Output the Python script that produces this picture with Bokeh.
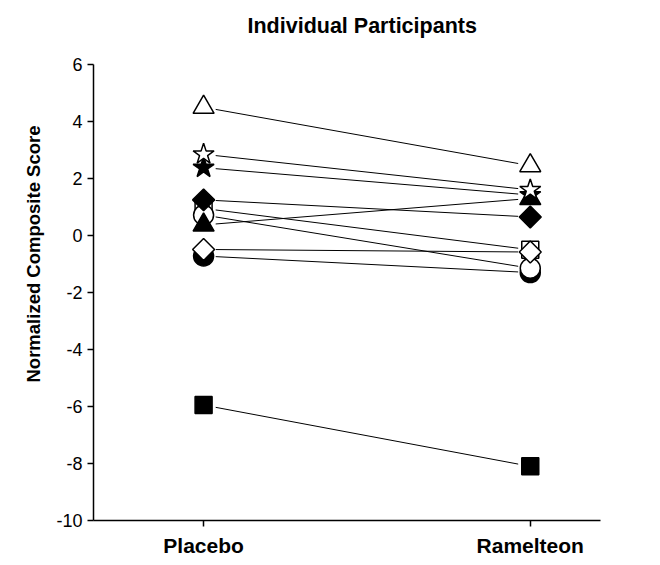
from bokeh.plotting import figure
from bokeh.models import FixedTicker, Range1d, Title
from bokeh.embed import file_html
from bokeh.resources import INLINE

# Participants (draw order bottom -> top)
markers = ["square", "star", "circle", "circle", "triangle", "diamond", "diamond", "star", "triangle", "square"]
filled = [False, True, True, False, True, False, True, False, False, True]
placebo = [0.95, 2.38, -0.72, 0.72, 0.37, -0.49, 1.25, 2.85, 4.5, -5.95]
ramelteon = [-0.5, 1.42, -1.3, -1.15, 1.3, -0.58, 0.65, 1.6, 2.45, -8.1]

conditions = ["Placebo", "Ramelteon"]
yticks = [6, 4, 2, 0, -2, -4, -6, -8, -10]
title_text = "Individual Participants"

FONT = "Liberation Sans"

p = figure(width=620, height=560, output_backend="svg", toolbar_location=None,
           x_range=Range1d(-0.337, 1.215), y_range=Range1d(-10, 6),
           min_border_left=93, min_border_right=20, min_border_top=64, min_border_bottom=40)
p.outline_line_color = None
p.xgrid.visible = False
p.ygrid.visible = False

# spacer panel next to the frame, then the real title above it
spacer = Title(text=" ", text_font_size="1px", standoff=13, text_color="white")
p.add_layout(spacer, "above")
t = Title(text=title_text, align="left", offset=154, standoff=22,
          text_font=FONT, text_font_size="21.5px", text_font_style="bold", text_color="black")
p.add_layout(t, "above")

yl = Title(text="Normalized Composite Score", align="left", offset=138, standoff=20,
           text_font=FONT, text_font_size="18.5px", text_font_style="bold", text_color="black")
p.add_layout(yl, "left")

# connecting lines, shortened to leave a small gap at each marker
g = 0.037
x0 = [g] * len(placebo)
x1 = [1 - g] * len(placebo)
y0 = [a + (b - a) * g for a, b in zip(placebo, ramelteon)]
y1 = [a + (b - a) * (1 - g) for a, b in zip(placebo, ramelteon)]
p.segment(x0=x0, y0=y0, x1=x1, y1=y1, line_color="black", line_width=1)

sizes = {"square": 17, "circle": 20, "triangle": 21, "star": 22, "diamond": 15.5}
for m, f, a, b in zip(markers, filled, placebo, ramelteon):
    kind = "square" if m == "diamond" else m
    ang = 0.785398 if m == "diamond" else 0
    p.scatter(x=[0, 1], y=[a, b], marker=kind, size=sizes[m], angle=ang,
              fill_color="black" if f else "white", line_color="black", line_width=1.5)

p.xaxis.ticker = FixedTicker(ticks=[0, 1])
p.xaxis.major_label_overrides = {0: conditions[0], 1: conditions[1]}
p.xaxis.major_label_text_font = FONT
p.xaxis.major_label_text_font_size = "21px"
p.xaxis.major_label_text_font_style = "bold"
p.xaxis.major_label_text_color = "black"
p.xaxis.major_tick_out = 6
p.xaxis.major_tick_in = 0
p.xaxis.minor_tick_line_color = None
p.xaxis.axis_line_width = 1.5
p.xaxis.major_tick_line_width = 1.5
p.xaxis.major_label_standoff = 7

p.yaxis.ticker = FixedTicker(ticks=yticks)
p.yaxis.major_label_overrides = {v: str(v) for v in yticks}
p.yaxis.major_label_text_font = FONT
p.yaxis.major_label_text_font_size = "18px"
p.yaxis.major_label_text_color = "black"
p.yaxis.major_tick_out = 6
p.yaxis.major_tick_in = 0
p.yaxis.minor_tick_line_color = None
p.yaxis.axis_line_width = 1.5
p.yaxis.major_tick_line_width = 1.5
p.yaxis.major_label_standoff = 5

open("out.html", "w").write(file_html(p, INLINE))
